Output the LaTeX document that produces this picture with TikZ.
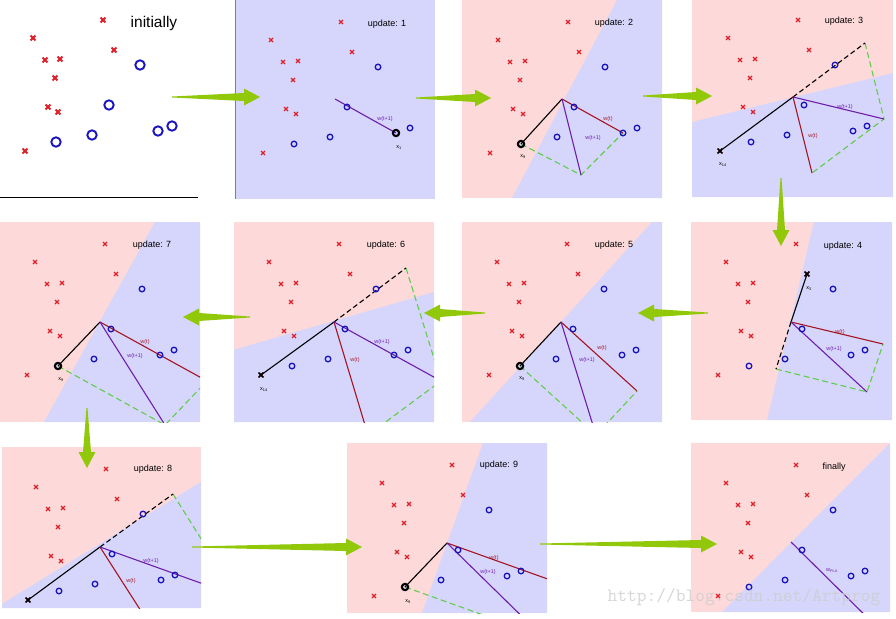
\documentclass[tikz,border=0pt]{standalone}
\usepackage{fontspec}
\setmainfont{Liberation Sans}
\usepackage{tikz}
\usetikzlibrary{calc}

\definecolor{pinkbg}{RGB}{253,217,217}
\definecolor{lavbg}{RGB}{214,214,252}
\definecolor{crossred}{RGB}{222,30,40}
\definecolor{circblue}{RGB}{25,20,190}
\definecolor{wred}{RGB}{165,20,35}
\definecolor{wpurple}{RGB}{110,30,170}
\definecolor{dashgreen}{RGB}{95,205,75}
\definecolor{arrowgreen}{RGB}{145,200,10}

% data set of every panel: cross half size, circle radius, line width
\newcommand\paintdata[3]{%
    \foreach \px/\py in {106/22,36/40,117/52,48/62,63/61,58/80,51/109,61/114,28/153}{
        \draw[crossred,line width=#3pt] (\px-#1,\py-#1) -- (\px+#1,\py+#1) (\px-#1,\py+#1) -- (\px+#1,\py-#1);
    }
    \foreach \px/\py in {143/67,112/107,95/137,59/144,175/128,161/133}{
        \draw[circblue,line width=#3pt] (\px,\py) circle (#2pt);
    }
}
% tapering green pointer from #1 to #2
\newcommand\paintarrow[2]{%
    \fill[arrowgreen] ($(#1)!0.5pt!90:(#2)$) -- ($(#2)!16pt!(#1)!4pt!90:(#2)$) -- ($(#2)!16pt!(#1)!8.5pt!90:(#2)$) -- (#2)
        -- ($(#2)!16pt!(#1)!8.5pt!-90:(#2)$) -- ($(#2)!16pt!(#1)!4pt!-90:(#2)$) -- ($(#1)!0.5pt!-90:(#2)$) -- cycle;
}

\begin{document}
\begin{tikzpicture}[x=1pt,y=-1pt,
    wt/.style={wred,line width=1.1pt},
    wnext/.style={wpurple,line width=1.1pt},
    xvec/.style={black,line width=1.1pt},
    xflip/.style={black,line width=1.1pt,dash pattern=on 5pt off 3pt},
    para/.style={dashgreen,line width=1.1pt,dash pattern=on 6pt off 3.5pt},
    hlcirc/.style={black,line width=2pt},
    hlcross/.style={black,line width=1.6pt},
    lbl/.style={inner sep=0pt,font=\fontsize{5.5}{6}\selectfont},
    title/.style={inner sep=0pt,font=\fontsize{9}{10}\selectfont}]
    \useasboundingbox[fill=white] (0,0) rectangle (896,618);

    % initially
    \begin{scope}[shift={(-3,-2)}]
        \paintdata{2.4}{4.7}{1.9}
    \end{scope}
    \node[inner sep=0pt,font=\fontsize{15.5}{16}\selectfont] (t0) at (154,23) {initially};
    \draw[line width=1pt] (0,197) -- (198,197);

    % update 1
    \begin{scope}[shift={(235,0)}]
        \clip (0,0) rectangle (200,199);
        \fill[lavbg] (0,0) rectangle (200,199);
        \coordinate (o1) at (100,99);
        \draw[wnext] (o1) -- (161,133);
        \paintdata{2}{2.8}{1.3}
        \draw[hlcirc] (161,133) circle (3.2pt);
        \node[lbl,wpurple] (wb1) at (150,119) {w(t+1)};
        \node[lbl] (x1) at (164,148) {x\textsubscript{1}};
        \node[title] (t1) at (152,24) {update: 1};
    \end{scope}
    \draw[gray,line width=0.8pt] (235,0) -- (235,199);

    % update 2
    \begin{scope}[shift={(462,0)}]
        \clip (0,0) rectangle (200,198);
        \fill[pinkbg] (0,0) rectangle (200,198);
        \fill[lavbg] (155,0) -- (200,0) -- (200,198) -- (50,198) -- cycle;
        \coordinate (o2) at (100,99);
        \draw[para] (59,144) -- (119,175) -- (161,133);
        \draw[xvec] (59,144) -- (o2);
        \draw[wt] (o2) -- (161,133);
        \draw[wnext] (o2) -- (119,175);
        \paintdata{2}{2.8}{1.3}
        \draw[hlcirc] (59,144) circle (3.2pt);
        \node[lbl,wred] (wa2) at (146,119) {w(t)};
        \node[lbl,wpurple] (wb2) at (131,138) {w(t+1)};
        \node[lbl] (x2) at (61,157) {x\textsubscript{9}};
        \node[title] (t2) at (152,23) {update: 2};
    \end{scope}

    % update 3
    \begin{scope}[shift={(692,-2)}]
        \clip (0,0) rectangle (201,199);
        \fill[pinkbg] (0,0) rectangle (201,199);
        \fill[lavbg] (0,124) -- (201,75) -- (201,199) -- (0,199) -- cycle;
        \coordinate (o3) at (101,99);
        \draw[para] (173,45) -- (192,121) -- (120,175);
        \draw[xvec] (28,153) -- (o3);
        \draw[xflip] (o3) -- (173,45);
        \draw[wt] (o3) -- (120,175);
        \draw[wnext] (o3) -- (192,121);
        \paintdata{2}{2.8}{1.3}
        \draw[hlcross] (25.6,150.6) -- (30.4,155.4) (25.6,155.4) -- (30.4,150.6);
        \node[lbl,wpurple] (wb3) at (153,109) {w(t+1)};
        \node[lbl,wred] (wa3) at (121,138) {w(t)};
        \node[lbl] (x3) at (31,167) {x\textsubscript{14}};
        \node[title] (t3) at (152,23) {update: 3};
    \end{scope}

    % update 4
    \begin{scope}[shift={(690,222)}]
        \clip (1,0) rectangle (202,198);
        \fill[pinkbg] (1,0) rectangle (202,198);
        \fill[lavbg] (124,0) -- (202,0) -- (202,198) -- (77,198) -- cycle;
        \coordinate (o4) at (101,100);
        \draw[para] (86,147) -- (177,170) -- (193,122);
        \draw[xvec] (o4) -- (117,52);
        \draw[xflip] (o4) -- (86,147);
        \draw[wt] (o4) -- (193,122);
        \draw[wnext] (o4) -- (177,170);
        \paintdata{2}{2.8}{1.3}
        \draw[hlcross] (114.6,49.6) -- (119.4,54.4) (114.6,54.4) -- (119.4,49.6);
        \node[lbl,wred] (wa4) at (150,110) {w(t)};
        \node[lbl,wpurple] (wb4) at (144,127) {w(t+1)};
        \node[lbl] (x4) at (119,67) {x\textsubscript{3}};
        \node[title] (t4) at (153,24) {update: 4};
    \end{scope}

    % update 5
    \begin{scope}[shift={(461,222)}]
        \clip (1,0) rectangle (201,200);
        \fill[pinkbg] (1,0) rectangle (201,200);
        \fill[lavbg] (191,0) -- (201,0) -- (201,200) -- (9,200) -- cycle;
        \coordinate (o5) at (100,100);
        \draw[para] (59,144) -- (135,213) -- (176,169);
        \draw[xvec] (59,144) -- (o5);
        \draw[wt] (o5) -- (176,169);
        \draw[wnext] (o5) -- (135,213);
        \paintdata{2}{2.8}{1.3}
        \draw[hlcirc] (59,144) circle (3.2pt);
        \node[lbl,wred] (wa5) at (141,126) {w(t)};
        \node[lbl,wpurple] (wb5) at (126,138) {w(t+1)};
        \node[lbl] (x5) at (61,157) {x\textsubscript{9}};
        \node[title] (t5) at (153,23) {update: 5};
    \end{scope}

    % update 6
    \begin{scope}[shift={(233,222)}]
        \clip (1,0) rectangle (201,200);
        \fill[pinkbg] (1,0) rectangle (201,200);
        \fill[lavbg] (0,128) -- (201,70) -- (201,200) -- (0,200) -- cycle;
        \coordinate (o6) at (101,100);
        \draw[para] (173,46) -- (208,159) -- (135,213);
        \draw[xvec] (28,153) -- (o6);
        \draw[xflip] (o6) -- (173,46);
        \draw[wt] (o6) -- (135,213);
        \draw[wnext] (o6) -- (208,159);
        \paintdata{2}{2.8}{1.3}
        \draw[hlcross] (25.6,150.6) -- (30.4,155.4) (25.6,155.4) -- (30.4,150.6);
        \node[lbl,wpurple] (wb6) at (149,120) {w(t+1)};
        \node[lbl,wred] (wa6) at (122,138) {w(t)};
        \node[lbl] (x6) at (31,168) {x\textsubscript{14}};
        \node[title] (t6) at (153,23) {update: 6};
    \end{scope}

    % update 7
    \begin{scope}[shift={(-1,222)}]
        \clip (1,0) rectangle (201,200);
        \fill[pinkbg] (1,0) rectangle (201,200);
        \fill[lavbg] (156,0) -- (201,0) -- (201,200) -- (45,200) -- cycle;
        \coordinate (o7) at (101,100);
        \draw[para] (59,144) -- (166,203) -- (208,159);
        \draw[xvec] (59,144) -- (o7);
        \draw[wt] (o7) -- (208,159);
        \draw[wnext] (o7) -- (166,203);
        \paintdata{2}{2.8}{1.3}
        \draw[hlcirc] (59,144) circle (3.2pt);
        \node[lbl,wred] (wa7) at (146,120) {w(t)};
        \node[lbl,wpurple] (wb7) at (136,134) {w(t+1)};
        \node[lbl] (x7) at (62,158) {x\textsubscript{9}};
        \node[title] (t7) at (153,23) {update: 7};
    \end{scope}

    % update 8
    \begin{scope}[shift={(0,447)}]
        \clip (2,0) rectangle (201,161);
        \fill[pinkbg] (2,0) rectangle (201,161);
        \fill[lavbg] (0,158) -- (201,35) -- (201,161) -- (0,161) -- cycle;
        \coordinate (o8) at (100,100);
        \draw[para] (173,47) -- (237,149) -- (166,203);
        \draw[xvec] (28,153) -- (o8);
        \draw[xflip] (o8) -- (173,47);
        \draw[wt] (o8) -- (166,203);
        \draw[wnext] (o8) -- (237,149);
        \paintdata{2}{2.8}{1.3}
        \draw[hlcross] (25.6,150.6) -- (30.4,155.4) (25.6,155.4) -- (30.4,150.6);
        \node[lbl,wpurple] (wb8) at (151,114) {w(t+1)};
        \node[lbl,wred] (wa8) at (131,134) {w(t)};
        \node[title] (t8) at (153,22) {update: 8};
    \end{scope}

    % update 9
    \begin{scope}[shift={(346,443)}]
        \clip (1,0) rectangle (201,170);
        \fill[pinkbg] (1,0) rectangle (201,170);
        \fill[lavbg] (137,0) -- (201,0) -- (201,170) -- (76,170) -- cycle;
        \coordinate (o9) at (101,100);
        \draw[para] (59,144) -- (196,193) -- (238,149);
        \draw[xvec] (59,144) -- (o9);
        \draw[wt] (o9) -- (238,149);
        \draw[wnext] (o9) -- (196,193);
        \paintdata{2}{2.8}{1.3}
        \draw[hlcirc] (59,144) circle (3.2pt);
        \node[lbl,wred] (wa9) at (148,115) {w(t)};
        \node[lbl,wpurple] (wb9) at (142,129) {w(t+1)};
        \node[lbl] (x9) at (62,159) {x\textsubscript{9}};
        \node[title] (t9) at (153,22) {update: 9};
    \end{scope}

    % finally
    \begin{scope}[shift={(690,443)}]
        \clip (1,0) rectangle (200,169);
        \fill[pinkbg] (1,0) rectangle (200,169);
        \fill[lavbg] (200,0) -- (200,169) -- (32,169) -- cycle;
        \coordinate (o10) at (101,99);
        \draw[wnext] (o10) -- (196,193);
        \paintdata{2}{2.8}{1.3}
        \node[lbl,wpurple] (wf) at (142,128) {w\textsubscript{PLA}};
        \node[title] (t10) at (144,24) {finally};
    \end{scope}

    % pointers between panels
    \coordinate (a1) at (172,97);  \coordinate (b1) at (260,97);
    \coordinate (a2) at (416,98);  \coordinate (b2) at (491,98);
    \coordinate (a3) at (643,96);  \coordinate (b3) at (712,96);
    \coordinate (a4) at (781,178); \coordinate (b4) at (781,246);
    \coordinate (a5) at (708,313); \coordinate (b5) at (638,313);
    \coordinate (a6) at (485,313); \coordinate (b6) at (424,313);
    \coordinate (a7) at (250,317); \coordinate (b7) at (183,317);
    \coordinate (a8) at (87,408);  \coordinate (b8) at (87,468);
    \coordinate (a9) at (192,547); \coordinate (b9) at (362,547);
    \coordinate (a10) at (540,544); \coordinate (b10) at (717,544);
    \foreach \i in {1,...,10}{
        \paintarrow{a\i}{b\i}
    }

    \node[inner sep=0pt,text=black!20,opacity=0.8,font=\ttfamily\fontsize{18.9}{19}\selectfont] (mark) at (744,597) {http://blog.csdn.net/Artprog};
\end{tikzpicture}
\end{document}
